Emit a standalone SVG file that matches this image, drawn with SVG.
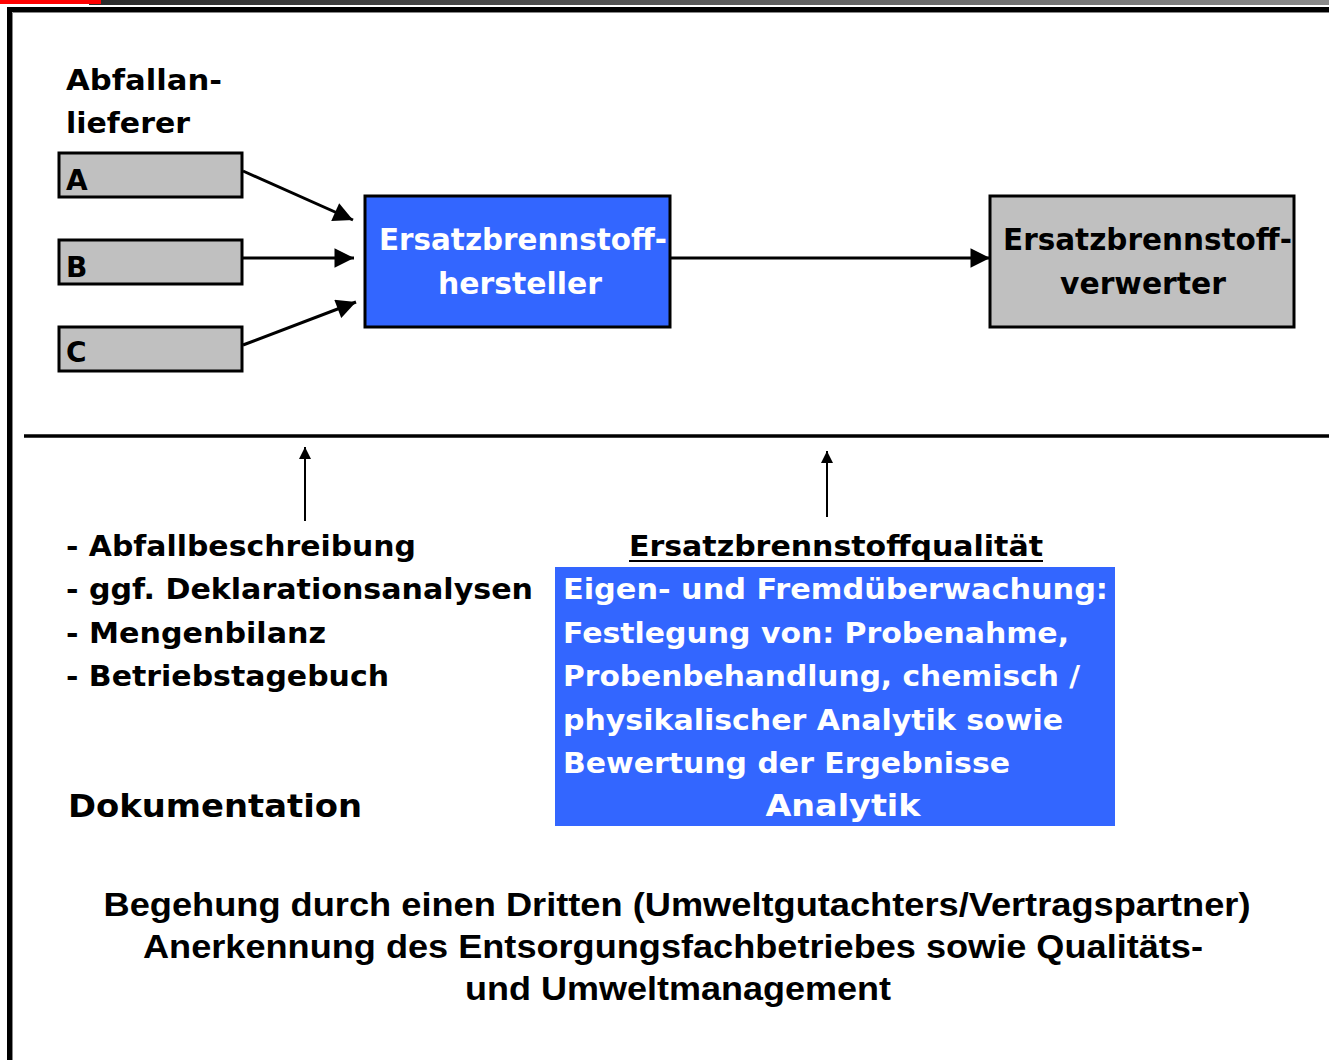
<svg xmlns="http://www.w3.org/2000/svg" width="1329" height="1060" viewBox="0 0 1329 1060">
<defs>
<linearGradient id="topbar" x1="0" y1="0" x2="1" y2="0">
<stop offset="0" stop-color="#2a2a2a"/>
<stop offset="1" stop-color="#8a8a8a"/>
</linearGradient>
<marker id="ah" viewBox="0 0 10 10" refX="10" refY="5" markerWidth="7.5" markerHeight="6.5" markerUnits="strokeWidth" orient="auto">
<path d="M0,0 L10,5 L0,10 Z" fill="#000"/>
</marker>
<marker id="ahs" viewBox="0 0 10 10" refX="10" refY="5" markerWidth="8" markerHeight="6" markerUnits="strokeWidth" orient="auto">
<path d="M0,0 L10,5 L0,10 Z" fill="#000"/>
</marker>
</defs>
<style>
.v{font-family:"DejaVu Sans","Verdana",sans-serif;font-weight:bold;}
.a{font-family:"Liberation Sans","Arial",sans-serif;font-weight:bold;}
.gray{fill:#c0c0c0;stroke:#000;stroke-width:3;}
.blue{fill:#3366ff;stroke:#000;stroke-width:3;}
.conn{stroke:#000;stroke-width:3;fill:none;}
.thin{stroke:#000;stroke-width:2;fill:none;}
</style>
<rect x="0" y="0" width="1329" height="1060" fill="#fff"/>
<rect x="89" y="0" width="1240" height="5" fill="url(#topbar)"/>
<rect x="0" y="0" width="101" height="4" fill="#ff0000"/>
<g id="frame">
<line x1="9.5" y1="7" x2="9.5" y2="1060" stroke="#000" stroke-width="5"/>
<line x1="7" y1="9.5" x2="1329" y2="9.5" stroke="#000" stroke-width="5"/>
<line x1="12.5" y1="12.5" x2="12.5" y2="1060" stroke="#888" stroke-width="1"/>
<line x1="12.5" y1="12.5" x2="1329" y2="12.5" stroke="#888" stroke-width="1"/>
</g>
<g id="label-lieferer" class="v" font-size="29">
<text x="66" y="90" textLength="156" lengthAdjust="spacingAndGlyphs">Abfallan-</text>
<text x="66" y="133" textLength="124" lengthAdjust="spacingAndGlyphs">lieferer</text>
</g>
<g id="node-A"><rect class="gray" x="59" y="153" width="183" height="44"/><text class="v" x="66" y="190" font-size="28">A</text></g>
<g id="node-B"><rect class="gray" x="59" y="240" width="183" height="44"/><text class="v" x="66" y="277" font-size="28">B</text></g>
<g id="node-C"><rect class="gray" x="59" y="327" width="183" height="44"/><text class="v" x="66" y="362" font-size="28">C</text></g>
<g id="node-hersteller">
<rect class="blue" x="365" y="196" width="305" height="131"/>
<text class="v" x="379" y="250" font-size="30" fill="#fff" textLength="288" lengthAdjust="spacingAndGlyphs">Ersatzbrennstoff-</text>
<text class="v" x="520" y="294" font-size="30" fill="#fff" text-anchor="middle" textLength="164" lengthAdjust="spacingAndGlyphs">hersteller</text>
</g>
<g id="node-verwerter">
<rect class="gray" x="990" y="196" width="304" height="131"/>
<text class="v" x="1003" y="250" font-size="30" fill="#000" textLength="289" lengthAdjust="spacingAndGlyphs">Ersatzbrennstoff-</text>
<text class="v" x="1143" y="294" font-size="30" fill="#000" text-anchor="middle" textLength="166" lengthAdjust="spacingAndGlyphs">verwerter</text>
</g>
<g id="connectors">
<line class="conn" x1="243" y1="171" x2="353" y2="220" marker-end="url(#ah)"/>
<line class="conn" x1="243" y1="258" x2="354" y2="258" marker-end="url(#ah)"/>
<line class="conn" x1="243" y1="345" x2="356" y2="302" marker-end="url(#ah)"/>
<line class="conn" x1="671" y1="258" x2="990" y2="258" marker-end="url(#ah)"/>
<line class="thin" x1="305" y1="521" x2="305" y2="447" marker-end="url(#ahs)"/>
<line class="thin" x1="827" y1="517" x2="827" y2="451" marker-end="url(#ahs)"/>
</g>
<line id="divider" x1="24" y1="436" x2="1329" y2="436" stroke="#000" stroke-width="3.5"/>
<g id="dokumentation" class="v" font-size="29">
<text x="66" y="556" textLength="350" lengthAdjust="spacingAndGlyphs">- Abfallbeschreibung</text>
<text x="66" y="599" textLength="467" lengthAdjust="spacingAndGlyphs">- ggf. Deklarationsanalysen</text>
<text x="66" y="643" textLength="260" lengthAdjust="spacingAndGlyphs">- Mengenbilanz</text>
<text x="66" y="686" textLength="323" lengthAdjust="spacingAndGlyphs">- Betriebstagebuch</text>
<text x="68" y="817" font-size="32" textLength="294" lengthAdjust="spacingAndGlyphs">Dokumentation</text>
</g>
<g id="analytik">
<text class="v" x="629" y="556" font-size="29" textLength="414" lengthAdjust="spacingAndGlyphs">Ersatzbrennstoffqualität</text>
<line x1="629" y1="561" x2="1043" y2="561" stroke="#000" stroke-width="2"/>
<rect x="555" y="567" width="560" height="259" fill="#3366ff"/>
<g class="v" font-size="29" fill="#fff">
<text x="563" y="599" textLength="545" lengthAdjust="spacingAndGlyphs">Eigen- und Fremdüberwachung:</text>
<text x="563" y="643" textLength="506" lengthAdjust="spacingAndGlyphs">Festlegung von: Probenahme,</text>
<text x="563" y="686" textLength="517" lengthAdjust="spacingAndGlyphs">Probenbehandlung, chemisch /</text>
<text x="563" y="730" textLength="500" lengthAdjust="spacingAndGlyphs">physikalischer Analytik sowie</text>
<text x="563" y="773" textLength="447" lengthAdjust="spacingAndGlyphs">Bewertung der Ergebnisse</text>
<text x="843" y="816" text-anchor="middle" font-size="31" textLength="155" lengthAdjust="spacingAndGlyphs">Analytik</text>
</g>
</g>
<g id="begehung" class="a" font-size="33" text-anchor="middle">
<text x="677" y="916" textLength="1147" lengthAdjust="spacingAndGlyphs">Begehung durch einen Dritten (Umweltgutachters/Vertragspartner)</text>
<text x="673" y="958" textLength="1060" lengthAdjust="spacingAndGlyphs">Anerkennung des Entsorgungsfachbetriebes sowie Qualitäts-</text>
<text x="678" y="1000" textLength="426" lengthAdjust="spacingAndGlyphs">und Umweltmanagement</text>
</g>
</svg>
